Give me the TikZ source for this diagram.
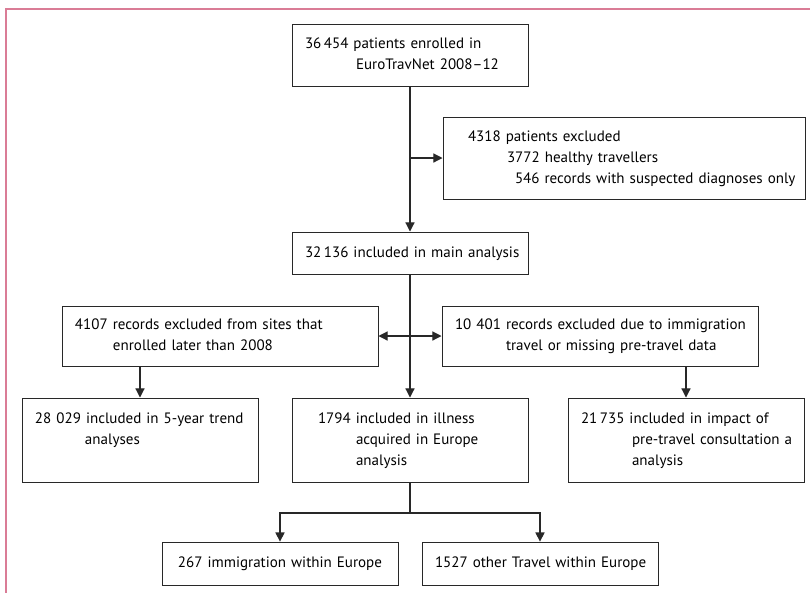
\documentclass[tikz,border=0pt]{standalone}
\usepackage{fontspec}
\setmainfont{PT Sans}
\definecolor{framepink}{RGB}{218,124,150}
\definecolor{boxline}{RGB}{40,40,40}
\usepackage{tikz}
\usetikzlibrary{calc, positioning, arrows.meta}
\newcommand{\boxlines}[1]{\begin{tabular}{@{}l@{}}#1\end{tabular}}

\begin{document}
\begin{tikzpicture}[
    flowbox/.style={draw=boxline, line width=0.7pt, align=left, inner xsep=0.325cm,
      inner ysep=0pt, font=\fontsize{10.7}{14.9}\selectfont},
    arr/.style={boxline, line width=0.8pt, -{Triangle[length=6.5pt, width=6.5pt]}},
    link/.style={boxline, line width=0.8pt},
  ]
    \useasboundingbox (0, 0) rectangle (20.25, -14.825);
    % frame of the figure (top and left only)
    \draw[framepink, line width=1.4pt] (20.25, -0.225) -- (0.15, -0.225) -- (0.15, -14.825);

    \node[flowbox, text width=5.25cm, minimum height=1.55cm] (enrol) at (10.25, -1.375)
      {\boxlines{36\,454 patients enrolled in\\\hspace*{1.275cm}EuroTravNet 2008--12}};
    \node[flowbox, text width=8.4cm, minimum height=2.05cm] (excl) at (15.6, -3.95)
      {\boxlines{\hspace*{0.3cm}4318 patients excluded\\\hspace*{1.275cm}3772 healthy travellers\\\hspace*{1.475cm}546 records with suspected diagnoses only}};
    \node[flowbox, text width=5.25cm, minimum height=1.05cm] (main) at (10.25, -6.325)
      {\boxlines{32\,136 included in main analysis}};
    \node[flowbox, text width=7.25cm, minimum height=1.5cm] (late) at (5.5, -8.4)
      {\boxlines{4107 records excluded from sites that\\\hspace*{0.95cm}enrolled later than 2008}};
    \node[flowbox, text width=7.25cm, minimum height=1.5cm] (immig) at (15.0, -8.4)
      {\boxlines{10 401 records excluded due to immigration\\\hspace*{1.275cm}travel or missing pre-travel data}};
    \node[flowbox, text width=5.25cm, minimum height=2.1cm] (trend) at (3.5, -11.0)
      {\boxlines{28 029 included in 5-year trend\\\hspace*{1.25cm}analyses\\\mbox{}}};
    \node[flowbox, text width=5.25cm, minimum height=2.1cm] (europe) at (10.25, -11.0)
      {\boxlines{\hspace*{0.325cm}1794 included in illness\\\hspace*{1.275cm}acquired in Europe\\\hspace*{1.275cm}analysis}};
    \node[flowbox, text width=5.25cm, minimum height=2.1cm] (pretravel) at (17.15, -11.0)
      {\boxlines{21\,735 included in impact of\\\hspace*{1.275cm}pre-travel consultation a\\\hspace*{1.275cm}analysis}};
    \node[flowbox, text width=5.25cm, minimum height=1.075cm, align=center] (immEU) at (7.0, -14.09)
      {\boxlines{267 immigration within Europe}};
    \node[flowbox, text width=5.25cm, minimum height=1.075cm, align=center] (otherEU) at (13.5, -14.09)
      {\boxlines{1527 other Travel within Europe}};

    \coordinate (split) at (10.25, -12.825);

    \draw[arr] (enrol.south) -- (main.north);
    \draw[arr] (enrol.south |- excl.west) -- (excl.west);
    \draw[arr] (main.south) -- (europe.north);
    \draw[arr] (main.south |- late.east) -- (late.east);
    \draw[arr] (main.south |- immig.west) -- (immig.west);
    \draw[arr] (trend.north |- late.south) -- (trend.north);
    \draw[arr] (pretravel.north |- immig.south) -- (pretravel.north);
    \draw[link] (europe.south) -- (split);
    \draw[arr] (split) -| (immEU.north);
    \draw[arr] (split) -| (otherEU.north);
\end{tikzpicture}
\end{document}
